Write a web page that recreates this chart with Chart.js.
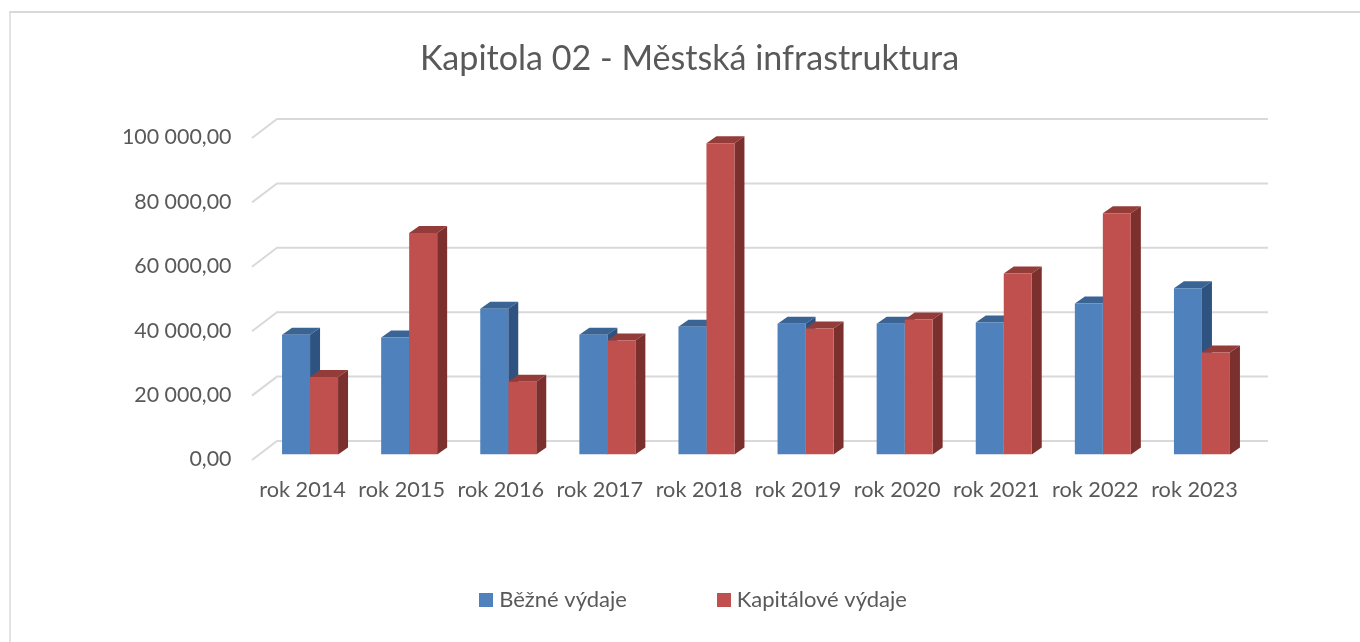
<!DOCTYPE html>
<html>
<head>
<meta charset="utf-8">
<script src="https://cdn.jsdelivr.net/npm/chart.js@4"></script>
<style>
  html, body { margin: 0; padding: 0; background: #fff; }
  #wrap { position: relative; width: 1360px; height: 642px; overflow: hidden; }
  #frame { position: absolute; left: 9px; top: 11px; width: 1400px; height: 700px; border-left: 2px solid #e2e2e2; border-top: 2px solid #d9d9d9; }
  canvas { position: absolute; left: 0; top: 0; }
</style>
</head>
<body>
<div id="wrap">
  <div id="frame"></div>
  <canvas id="chart" width="1360" height="642"></canvas>
</div>
<script>
const chartTitle = "Kapitola 02 - Městská infrastruktura";
const years = ["rok 2014", "rok 2015", "rok 2016", "rok 2017", "rok 2018", "rok 2019", "rok 2020", "rok 2021", "rok 2022", "rok 2023"];
const bezneVydaje = [37200, 36300, 45300, 37200, 39700, 40600, 40600, 41000, 46900, 51600];
const kapitaloveVydaje = [24100, 68800, 22600, 35400, 96700, 39100, 41900, 56200, 74900, 31700];

const fontName = "Lato, 'Open Sans', sans-serif";
const textColor = "#595959";
const blue = "#4f81bd";
const red = "#c0504d";

function fmt(v) {
  const s = String(v).replace(/\B(?=(\d{3})+$)/g, " ");
  return s + ",00";
}

// square legend marker, as an image so it can sit closer to the text
function marker(color) {
  const m = document.createElement("canvas");
  m.width = 14;
  m.height = 14;
  const g = m.getContext("2d");
  g.fillStyle = color;
  g.fillRect(0, 0, 14, 14);
  return m;
}
const markers = [marker(blue), marker(red)];

// fake 3D: back wall lines and the top/side faces of the bars
const depthPlugin = {
  id: "depth",
  afterLayout(chart) {
    chart.legend.left += 12; // legend sits a little right of the title centre
    // tick labels get clipped to the scale boxes otherwise
    chart.scales.x.bottom += 20;
    chart.scales.y.left -= 20;
  },
  beforeDatasetsDraw(chart) {
    const c = chart.ctx;
    const y = chart.scales.y;
    c.save();
    c.strokeStyle = "#d9d9d9";
    c.lineWidth = 2;
    y.ticks.forEach(t => {
      const py = y.getPixelForValue(t.value);
      c.beginPath();
      c.moveTo(252, py + 5.5);
      c.lineTo(277, py - 13.5);
      c.lineTo(1268, py - 13.5);
      c.stroke();
    });
    const dx = 10, dy = 7;
    const tops = ["#3a6493", "#933c3a"];
    const sides = ["#2f5381", "#7c302e"];
    [0, 1].forEach(i => {
      chart.getDatasetMeta(i).data.forEach(bar => {
        const p = bar.getProps(["x", "y", "base", "width"], true);
        const l = p.x - p.width / 2, r = p.x + p.width / 2;
        c.fillStyle = tops[i];
        c.beginPath();
        c.moveTo(l, p.y);
        c.lineTo(l + dx, p.y - dy);
        c.lineTo(r + dx, p.y - dy);
        c.lineTo(r, p.y);
        c.fill();
        c.fillStyle = sides[i];
        c.beginPath();
        c.moveTo(r, p.y);
        c.lineTo(r + dx, p.y - dy);
        c.lineTo(r + dx, p.base - dy);
        c.lineTo(r, p.base);
        c.fill();
      });
    });
    c.restore();
  }
};

new Chart(document.getElementById("chart"), {
  type: "bar",
  data: {
    labels: years,
    datasets: [
      { label: "Běžné výdaje", data: bezneVydaje, backgroundColor: blue },
      { label: "Kapitálové výdaje", data: kapitaloveVydaje, backgroundColor: red }
    ]
  },
  plugins: [depthPlugin],
  options: {
    responsive: false,
    animation: false,
    layout: { padding: { left: 127.5, right: 108.5, top: 0, bottom: 21 } },
    datasets: { bar: { barPercentage: 1, categoryPercentage: 0.565 } },
    scales: {
      x: {
        grid: { display: false },
        border: { display: false },
        afterFit(s) { s.height = 39.5; },
        ticks: { color: textColor, font: { family: fontName, size: 21.7 }, maxRotation: 0, autoSkip: false, padding: 14.5, labelOffset: -7.5 }
      },
      y: {
        min: 0,
        max: 100000,
        grid: { display: false, drawTicks: false },
        border: { display: false },
        afterFit(s) { s.width = 133; },
        ticks: { stepSize: 20000, color: textColor, font: { family: fontName, size: 21.4 }, padding: 29, labelOffset: 5, callback: fmt }
      }
    },
    plugins: {
      tooltip: { enabled: false },
      title: {
        display: true,
        text: chartTitle,
        color: textColor,
        font: { family: fontName, size: 34.1, weight: "normal" },
        padding: { top: 39, bottom: 52.6 }
      },
      legend: {
        position: "bottom",
        labels: {
          color: textColor,
          font: { family: fontName, size: 22 },
          usePointStyle: true,
          pointStyleWidth: 4,
          boxHeight: 14,
          padding: 95,
          generateLabels(chart) {
            const items = Chart.defaults.plugins.legend.labels.generateLabels(chart);
            items.forEach((it, i) => { it.pointStyle = markers[i]; });
            return items;
          }
        }
      }
    }
  }
});
</script>
</body>
</html>
